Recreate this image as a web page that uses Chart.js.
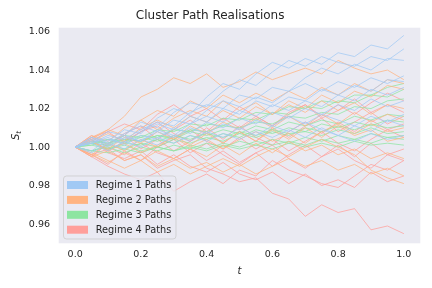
<!DOCTYPE html>
<html>
<head>
<meta charset="utf-8">
<script src="https://cdn.jsdelivr.net/npm/chart.js@4"></script>
<style>
  body { margin: 0; background: #ffffff; }
  #wrap { width: 432px; height: 288px; }
</style>
</head>
<body>
<div id="wrap"><canvas id="pathChart" width="432" height="288"></canvas></div>
<script>
// time grid and tick labels
let tValues = [0, 0.05, 0.1, 0.15, 0.2, 0.25, 0.3, 0.35, 0.4, 0.45, 0.5, 0.55, 0.6, 0.65, 0.7, 0.75, 0.8, 0.85, 0.9, 0.95, 1.0]
let xTicks = [0.0, 0.2, 0.4, 0.6, 0.8, 1.0]
let yTicks = [0.96, 0.98, 1.00, 1.02, 1.04, 1.06]

let regimeNames = ["Regime 1 Paths", "Regime 2 Paths", "Regime 3 Paths", "Regime 4 Paths"]
let regimeColors = ["#a1c9f4", "#ffb482", "#8de5a1", "#ff9f9b"]

let regime1Paths = [
    [1.000,1.005,1.003,1.009,1.007,1.015,1.020,1.017,1.026,1.033,1.030,1.038,1.044,1.041,1.046,1.043,1.049,1.047,1.053,1.051,1.058],
    [1.000,1.003,1.008,1.006,1.013,1.010,1.018,1.023,1.021,1.029,1.035,1.032,1.039,1.045,1.042,1.047,1.044,1.042,1.047,1.045,1.051],
    [1.000,1.002,1.006,1.004,1.009,1.013,1.011,1.018,1.022,1.020,1.027,1.025,1.031,1.029,1.036,1.041,1.038,1.043,1.040,1.046,1.045],
    [1.000,1.005,1.002,1.007,1.011,1.008,1.014,1.012,1.019,1.024,1.021,1.026,1.023,1.029,1.033,1.029,1.034,1.031,1.036,1.033,1.037],
    [1.000,0.998,1.004,1.002,1.008,1.012,1.009,1.016,1.013,1.020,1.017,1.024,1.021,1.026,1.024,1.030,1.027,1.032,1.029,1.035,1.034],
    [1.000,1.003,1.000,1.005,1.003,1.009,1.006,1.012,1.016,1.013,1.019,1.016,1.022,1.019,1.024,1.021,1.027,1.024,1.030,1.027,1.031],
    [1.000,1.002,1.005,1.001,1.006,1.004,1.010,1.007,1.013,1.010,1.015,1.012,1.018,1.015,1.020,1.017,1.022,1.019,1.025,1.021,1.024],
    [1.000,1.004,1.001,1.006,1.003,1.008,1.005,1.010,1.007,1.012,1.009,1.014,1.011,1.016,1.012,1.017,1.014,1.011,1.016,1.013,1.017],
    [1.000,0.997,1.002,0.999,1.004,1.001,1.006,1.003,1.008,1.005,1.010,1.006,1.011,1.008,1.013,1.009,1.006,1.011,1.008,1.014,1.011],
    [1.000,1.002,0.998,1.003,1.000,1.005,1.002,1.006,1.003,1.007,1.004,1.008,1.005,1.009,1.005,1.010,1.006,1.003,1.007,1.004,1.006]
]

let regime2Paths = [
    [1.000,1.005,1.009,1.016,1.026,1.030,1.036,1.033,1.038,1.031,1.034,1.039,1.035,1.038,1.041,1.038,1.045,1.041,1.038,1.040,1.035],
    [1.000,1.004,1.009,1.006,1.014,1.019,1.016,1.024,1.020,1.027,1.023,1.028,1.024,1.029,1.025,1.031,1.027,1.033,1.029,1.035,1.033],
    [1.000,1.003,1.007,1.003,1.010,1.014,1.010,1.016,1.013,1.019,1.015,1.021,1.017,1.024,1.020,1.027,1.023,1.029,1.026,1.032,1.030],
    [1.000,1.006,1.003,1.010,1.014,1.009,1.015,1.019,1.016,1.024,1.019,1.023,1.017,1.022,1.018,1.024,1.019,1.023,1.017,1.022,1.020],
    [1.000,1.003,0.999,1.005,1.002,1.008,1.004,1.011,1.007,1.013,1.009,1.015,1.010,1.016,1.011,1.017,1.012,1.018,1.013,1.017,1.014],
    [1.000,0.996,1.002,0.998,1.004,1.000,1.006,1.001,1.007,1.002,1.008,1.003,1.009,1.004,1.010,1.005,1.011,1.006,1.009,1.003,1.005],
    [1.000,0.996,0.992,0.997,0.993,0.998,0.994,0.999,0.995,1.001,0.996,1.002,0.997,1.003,0.998,1.001,0.996,0.999,0.994,0.997,0.994],
    [1.000,0.997,0.993,0.989,0.993,0.987,0.991,0.986,0.990,0.994,0.990,0.995,0.999,0.995,1.000,1.004,1.000,0.996,0.988,0.984,0.981],
    [1.000,0.995,0.998,0.993,0.996,0.990,0.994,0.989,0.992,0.987,0.991,0.986,0.990,0.994,0.990,0.993,0.988,0.991,0.986,0.989,0.985],
    [1.000,1.003,0.998,1.002,0.997,1.001,1.005,1.000,1.004,0.999,1.004,1.008,1.003,1.007,1.002,1.008,1.012,1.007,1.012,1.008,1.010]
]

let regime3Paths = [
    [1.000,1.003,1.002,1.006,1.005,1.009,1.008,1.012,1.011,1.015,1.014,1.018,1.017,1.021,1.020,1.024,1.023,1.027,1.027,1.031,1.033],
    [1.000,1.001,1.004,1.003,1.006,1.005,1.009,1.008,1.012,1.011,1.015,1.014,1.018,1.017,1.021,1.020,1.024,1.023,1.027,1.026,1.030],
    [1.000,1.002,1.001,1.004,1.003,1.006,1.005,1.009,1.008,1.011,1.010,1.013,1.012,1.016,1.015,1.018,1.017,1.021,1.020,1.024,1.025],
    [1.000,1.003,1.002,1.004,1.003,1.006,1.004,1.008,1.006,1.009,1.007,1.011,1.009,1.013,1.011,1.014,1.012,1.016,1.014,1.017,1.016],
    [1.000,1.001,0.999,1.002,1.001,1.004,1.002,1.006,1.004,1.007,1.005,1.009,1.007,1.010,1.008,1.012,1.010,1.013,1.011,1.014,1.013],
    [1.000,0.998,1.001,0.999,1.002,1.000,1.004,1.002,1.005,1.003,1.007,1.005,1.008,1.006,1.010,1.008,1.011,1.009,1.012,1.010,1.011],
    [1.000,1.002,1.004,1.002,1.005,1.003,1.006,1.004,1.007,1.005,1.008,1.006,1.009,1.007,1.008,1.006,1.009,1.007,1.010,1.007,1.008],
    [1.000,0.998,1.000,0.997,1.000,0.998,1.001,0.999,1.002,1.000,1.003,1.001,1.004,1.002,1.005,1.003,1.006,1.004,1.007,1.005,1.006],
    [1.000,1.002,0.999,1.001,0.998,1.000,0.998,1.001,0.999,1.002,1.000,1.003,1.001,1.003,1.001,1.004,1.002,1.004,1.002,1.005,1.004],
    [1.000,0.998,0.997,0.999,0.997,1.000,0.998,1.000,0.998,1.001,0.999,1.001,0.999,1.002,1.000,1.002,1.000,1.003,1.001,1.002,1.001]
]

let regime4Paths = [
    [1.000,0.996,0.999,0.993,0.996,0.989,0.993,0.996,0.989,0.986,0.982,0.984,0.976,0.973,0.964,0.970,0.966,0.968,0.957,0.959,0.955],
    [1.000,0.995,0.990,0.986,0.983,0.987,0.977,0.982,0.986,0.981,0.988,0.985,0.993,0.988,0.985,0.981,0.979,0.985,0.991,0.988,0.993],
    [1.000,1.004,0.997,0.994,0.998,0.991,0.996,0.990,0.987,0.992,0.986,0.983,0.987,0.981,0.986,0.980,0.983,0.979,0.987,0.982,0.985],
    [1.000,1.005,1.000,0.996,1.002,0.997,0.994,0.999,0.993,0.998,0.992,0.997,1.001,0.994,0.989,0.995,0.999,0.993,0.989,0.996,0.993],
    [1.000,1.005,1.008,1.012,1.009,1.017,1.022,1.016,1.020,1.014,1.021,1.016,1.011,1.018,1.022,1.015,1.019,1.025,1.018,1.022,1.018],
    [1.000,1.006,1.001,1.007,1.011,1.004,1.009,1.014,1.008,1.015,1.010,1.016,1.011,1.017,1.022,1.016,1.022,1.017,1.023,1.028,1.024],
    [1.000,0.995,1.002,1.006,0.999,1.004,0.998,1.003,1.008,1.002,1.008,1.003,1.010,1.005,1.011,1.015,1.008,1.013,1.018,1.012,1.016],
    [1.000,1.004,0.998,1.003,1.008,1.011,1.004,1.009,1.003,0.999,1.005,0.999,1.004,0.998,1.003,1.008,1.002,0.998,1.004,1.009,1.005],
    [1.000,0.996,0.991,0.998,0.993,1.000,1.004,0.997,1.002,0.996,0.991,0.997,0.990,0.996,1.001,0.995,1.001,0.995,1.002,0.996,0.999],
    [1.000,1.003,1.008,1.002,1.008,1.013,1.007,1.003,1.010,1.004,1.011,1.005,1.001,1.008,1.013,1.007,1.013,1.008,1.014,1.009,1.012]
]

let allRegimes = [regime1Paths, regime2Paths, regime3Paths, regime4Paths]

function hexToRgba(hex, a) {
    let r = parseInt(hex.slice(1, 3), 16)
    let g = parseInt(hex.slice(3, 5), 16)
    let b = parseInt(hex.slice(5, 7), 16)
    return `rgba(${r},${g},${b},${a})`
}

let datasets = []
for (let r = 0; r < allRegimes.length; r++) {
    for (let p = 0; p < allRegimes[r].length; p++) {
        datasets.push({
            label: regimeNames[r],
            data: allRegimes[r][p].map((v, i) => ({ x: tValues[i], y: v })),
            borderColor: hexToRgba(regimeColors[r], 0.75),
            borderWidth: 1,
            pointRadius: 0,
            tension: 0,
            fill: false
        })
    }
}

const textColor = "#262626"
const fontFamily = "'DejaVu Sans', sans-serif"

// plot background, axis labels and the legend box
const decorations = {
    id: "decorations",
    beforeDraw(chart) {
        let ca = chart.chartArea
        let ctx = chart.ctx
        ctx.save()
        ctx.fillStyle = "#eaeaf2"
        ctx.fillRect(ca.left, ca.top, ca.right - ca.left, ca.bottom - ca.top)
        ctx.restore()
    },
    afterDraw(chart) {
        let ctx = chart.ctx
        let ca = chart.chartArea
        ctx.save()
        ctx.fillStyle = textColor

        // x label
        ctx.font = "italic 10px " + fontFamily
        ctx.textAlign = "center"
        ctx.textBaseline = "middle"
        ctx.fillText("t", (ca.left + ca.right) / 2, 271)

        // y label S_t
        ctx.translate(16.5, (ca.top + ca.bottom) / 2)
        ctx.rotate(-Math.PI / 2)
        ctx.textAlign = "left"
        ctx.font = "italic 10px " + fontFamily
        let sw = ctx.measureText("S").width
        ctx.font = "italic 7px " + fontFamily
        let tw = ctx.measureText("t").width
        let startX = -(sw + tw) / 2
        ctx.font = "italic 10px " + fontFamily
        ctx.fillText("S", startX, 0)
        ctx.font = "italic 7px " + fontFamily
        ctx.fillText("t", startX + sw, 3)
        ctx.restore()

        // legend
        ctx.save()
        let bx = 63.5, by = 176, bw = 112.5, bh = 63
        ctx.beginPath()
        ctx.roundRect(bx, by, bw, bh, 3)
        ctx.fillStyle = "rgba(234,234,242,0.8)"
        ctx.fill()
        ctx.strokeStyle = "rgba(204,204,204,0.8)"
        ctx.lineWidth = 1
        ctx.stroke()
        ctx.font = "9.75px " + fontFamily
        ctx.textAlign = "left"
        ctx.textBaseline = "middle"
        for (let k = 0; k < regimeNames.length; k++) {
            let cy = 185 + k * 14.9
            ctx.fillStyle = regimeColors[k]
            ctx.fillRect(67, cy - 4, 21, 8)
            ctx.fillStyle = textColor
            ctx.fillText(regimeNames[k], 95.7, cy + 0.5)
        }
        ctx.restore()
    }
}

let ctx = document.getElementById("pathChart").getContext("2d")
let pathChart = new Chart(ctx, {
    type: "line",
    data: { datasets: datasets },
    options: {
        responsive: false,
        animation: false,
        events: [],
        layout: { padding: { top: 0, right: 11.7, bottom: 0, left: 0 } },
        plugins: {
            legend: { display: false },
            tooltip: { enabled: false },
            title: {
                display: true,
                text: "Cluster Path Realisations",
                color: textColor,
                font: { family: fontFamily, size: 12, weight: "normal" },
                padding: { top: 9.1, bottom: 4.2 }
            }
        },
        scales: {
            x: {
                type: "linear",
                min: -0.05,
                max: 1.05,
                grid: { display: false, drawTicks: false },
                border: { display: false },
                afterBuildTicks: s => { s.ticks = xTicks.map(v => ({ value: v })) },
                afterFit: s => { s.height = 44.7 },
                ticks: {
                    color: textColor,
                    font: { family: fontFamily, size: 9.5 },
                    padding: 6,
                    maxRotation: 0,
                    callback: v => v.toFixed(1)
                }
            },
            y: {
                type: "linear",
                min: 0.950,
                max: 1.062,
                grid: { display: false, drawTicks: false },
                border: { display: false },
                afterBuildTicks: s => { s.ticks = yTicks.map(v => ({ value: v })) },
                afterFit: s => { s.width = 58.7 },
                ticks: {
                    color: textColor,
                    font: { family: fontFamily, size: 9.5 },
                    padding: 8.7,
                    callback: v => v.toFixed(2)
                }
            }
        }
    },
    plugins: [decorations]
})
</script>
</body>
</html>
